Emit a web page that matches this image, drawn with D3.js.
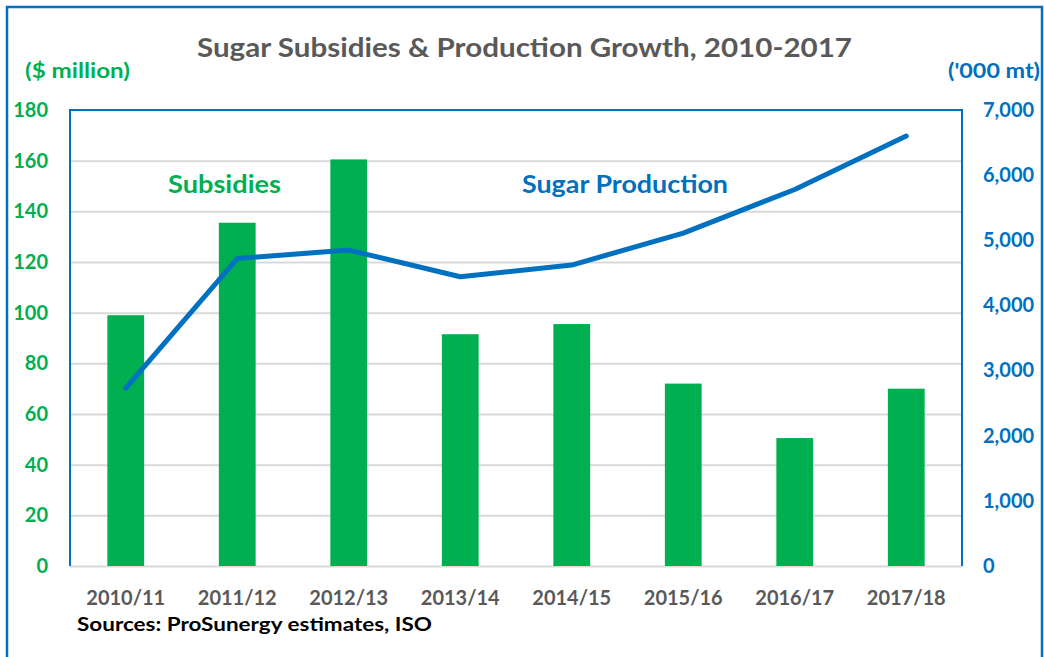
<!DOCTYPE html>
<html>
<head>
<meta charset="utf-8">
<script src="https://cdn.jsdelivr.net/npm/d3@7"></script>
<style>
  body { margin: 0; background: #fff; }
  text { font-family: Lato, "Open Sans", sans-serif; }
</style>
</head>
<body>
<script>
// chart values
var seasons = ['2010/11', '2011/12', '2012/13', '2013/14', '2014/15', '2015/16', '2016/17', '2017/18'];
var subsidies = [99, 135.5, 160.5, 91.5, 95.5, 72, 50.5, 70];          // $ million
var production = [2730, 4720, 4850, 4440, 4620, 5110, 5780, 6600];    // '000 mt
var leftTicks = [0, 20, 40, 60, 80, 100, 120, 140, 160, 180];
var rightTicks = [0, 1000, 2000, 3000, 4000, 5000, 6000, 7000];

var W = 1044, H = 657;
var margin = { left: 70, right: 82, top: 110, bottom: 91 };
var width = W - margin.left - margin.right;
var height = H - margin.top - margin.bottom;

var green = '#00B050', blue = '#0070C0', grey = '#595959';

var svg = d3.select('body').append('svg')
	.attr('width', W)
	.attr('height', H);

// outer frame
svg.append('rect')
	.attr('x', 7).attr('y', 7)
	.attr('width', 1035).attr('height', 680)
	.attr('fill', 'none')
	.attr('stroke', blue)
	.attr('stroke-width', 2.5);

svg.append('text')
	.attr('x', 524.5).attr('y', 57)
	.attr('text-anchor', 'middle')
	.attr('font-size', '26px')
	.attr('font-weight', 'bold')
	.attr('fill', grey)
	.attr('textLength', 655)
	.attr('lengthAdjust', 'spacingAndGlyphs')
	.text('Sugar Subsidies & Production  Growth, 2010-2017');

svg.append('text')
	.attr('x', 25).attr('y', 78)
	.attr('font-size', '20px')
	.attr('font-weight', 'bold')
	.attr('fill', green)
	.attr('textLength', 105)
	.attr('lengthAdjust', 'spacingAndGlyphs')
	.text('($ million)');

svg.append('text')
	.attr('x', 1040).attr('y', 78)
	.attr('text-anchor', 'end')
	.attr('font-size', '20px')
	.attr('font-weight', 'bold')
	.attr('fill', blue)
	.attr('textLength', 92)
	.attr('lengthAdjust', 'spacingAndGlyphs')
	.text("('000 mt)");

var g = svg.append('g').attr('transform', 'translate(' + margin.left + ',' + margin.top + ')');

var x = d3.scaleBand().domain(seasons).range([0, width]).paddingInner(0.67).paddingOuter(0.335);
var yL = d3.scaleLinear().domain([0, 180]).range([height, 0]);
var yR = d3.scaleLinear().domain([0, 7000]).range([height, 0]);

// gridlines
g.append('g')
	.call(d3.axisLeft(yL).tickValues(leftTicks).tickSize(-width).tickFormat(''))
	.call(function(a) {
		a.select('.domain').remove();
		a.selectAll('line').attr('stroke', '#d9d9d9').attr('stroke-width', 2);
	});

// left axis labels
g.append('g')
	.call(d3.axisLeft(yL).tickValues(leftTicks).tickSize(0).tickPadding(22))
	.call(function(a) {
		a.select('.domain').remove();
		a.selectAll('text')
			.attr('font-family', 'Lato, sans-serif')
			.attr('font-size', '20px')
			.attr('font-weight', 'bold')
			.attr('fill', green);
	});

// right axis labels
g.append('g')
	.attr('transform', 'translate(' + width + ',0)')
	.call(d3.axisRight(yR).tickValues(rightTicks).tickSize(0).tickPadding(21).tickFormat(d3.format(',')))
	.call(function(a) {
		a.select('.domain').remove();
		a.selectAll('text')
			.attr('font-family', 'Lato, sans-serif')
			.attr('font-size', '20px')
			.attr('font-weight', 'bold')
			.attr('fill', blue);
	});

// x axis labels
g.append('g')
	.attr('transform', 'translate(0,' + height + ')')
	.call(d3.axisBottom(x).tickSize(0).tickPadding(25))
	.call(function(a) {
		a.select('.domain').remove();
		a.selectAll('text')
			.attr('font-family', 'Lato, sans-serif')
			.attr('font-size', '20px')
			.attr('font-weight', 'bold')
			.attr('fill', grey);
	});

// bars
g.selectAll('.bar')
	.data(subsidies)
	.enter()
	.append('rect')
	.attr('class', 'bar')
	.attr('x', function(d, i) { return x(seasons[i]); })
	.attr('y', function(d) { return yL(d); })
	.attr('width', x.bandwidth())
	.attr('height', function(d) { return height - yL(d); })
	.attr('fill', green);

// plot box: blue left, top, right
g.append('path')
	.attr('d', 'M0,' + height + 'V0H' + width + 'V' + height)
	.attr('fill', 'none')
	.attr('stroke', blue)
	.attr('stroke-width', 2);

// production line
var line = d3.line()
	.x(function(d, i) { return x(seasons[i]) + x.bandwidth() / 2; })
	.y(function(d) { return yR(d); });

g.append('path')
	.datum(production)
	.attr('d', line)
	.attr('fill', 'none')
	.attr('stroke', blue)
	.attr('stroke-width', 5)
	.attr('stroke-linecap', 'round')
	.attr('stroke-linejoin', 'round');

// series labels
svg.append('text')
	.attr('x', 224.5).attr('y', 193)
	.attr('text-anchor', 'middle')
	.attr('font-size', '25px')
	.attr('font-weight', 'bold')
	.attr('fill', green)
	.attr('textLength', 113)
	.attr('lengthAdjust', 'spacingAndGlyphs')
	.text('Subsidies');

svg.append('text')
	.attr('x', 625).attr('y', 193)
	.attr('text-anchor', 'middle')
	.attr('font-size', '25px')
	.attr('font-weight', 'bold')
	.attr('fill', blue)
	.attr('textLength', 206)
	.attr('lengthAdjust', 'spacingAndGlyphs')
	.text('Sugar Production');

svg.append('text')
	.attr('x', 77).attr('y', 631)
	.attr('font-size', '18px')
	.attr('font-weight', 'bold')
	.attr('fill', '#000')
	.attr('textLength', 355)
	.attr('lengthAdjust', 'spacingAndGlyphs')
	.text('Sources: ProSunergy estimates, ISO');
</script>
</body>
</html>
